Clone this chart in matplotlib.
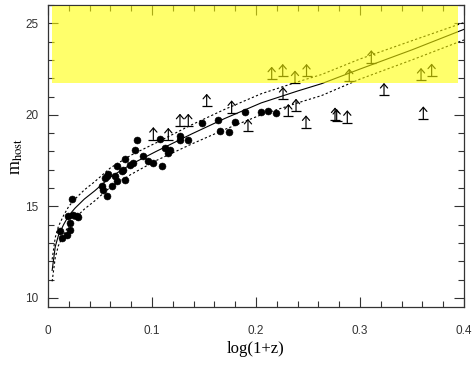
import numpy as np
import matplotlib
matplotlib.use('Agg')
import matplotlib.pyplot as plt
from matplotlib.patches import Rectangle
from matplotlib.ticker import MultipleLocator, FuncFormatter

plt.rcParams['font.family'] = ['Liberation Sans', 'DejaVu Sans']
plt.rcParams['mathtext.fontset'] = 'stix'

# Host galaxy magnitudes (filled circles).
x_host = [0.0115, 0.0132, 0.018, 0.0212, 0.0212, 0.0195, 0.0228, 0.0276, 0.0291, 0.0236,
          0.0516, 0.0532, 0.0564, 0.0548, 0.0564, 0.058, 0.0613, 0.0644, 0.066, 0.066,
          0.0709, 0.0724, 0.074, 0.074, 0.0788, 0.082, 0.0837, 0.0853, 0.0916, 0.0964,
          0.1012, 0.1093, 0.1077, 0.1125, 0.1173, 0.1157, 0.1269, 0.1269, 0.1349, 0.1478,
          0.1638, 0.1654, 0.174, 0.1798, 0.1894, 0.2048, 0.2115, 0.2197]
m_host = [13.63, 13.27, 13.45, 13.72, 14.09, 14.45, 15.40, 14.49, 14.40, 14.55,
          16.10, 15.91, 15.55, 16.55, 16.64, 16.74, 16.10, 16.64, 16.37, 17.19,
          16.92, 17.01, 16.46, 17.59, 17.28, 17.38, 18.10, 18.61, 17.74, 17.46,
          17.38, 17.19, 18.69, 18.20, 18.10, 17.92, 18.83, 18.65, 18.65, 19.56,
          19.73, 19.09, 19.05, 19.60, 20.18, 20.17, 20.20, 20.11]

# Lower limits (arrows).
x_lim = [0.1013, 0.1157, 0.1269, 0.1349, 0.1526, 0.1766, 0.1923, 0.226, 0.2311, 0.2385,
         0.2481, 0.276, 0.2776, 0.2878, 0.3231, 0.3609,
         0.2151, 0.2257, 0.2375, 0.2486, 0.2897, 0.3109, 0.3587, 0.3689]
m_lim = [18.65, 18.61, 19.38, 19.38, 20.47, 20.11, 19.10, 20.84, 19.91, 20.20,
         19.29, 19.72, 19.64, 19.57, 21.06, 19.78,
         21.95, 22.10, 21.74, 22.10, 21.84, 22.85, 21.88, 22.12]

# Hubble relation and its scatter.
x_curve = [0.004, 0.007, 0.01, 0.015, 0.02, 0.026, 0.035, 0.045, 0.06, 0.08,
           0.104, 0.138, 0.17, 0.205, 0.24, 0.263, 0.30, 0.35, 0.40]
m_mid = [11.5, 12.8, 13.4, 14.0, 14.5, 14.9, 15.4, 15.85, 16.6, 17.3,
         18.0, 18.95, 19.8, 20.65, 21.3, 21.7, 22.5, 23.55, 24.67]
m_upper = [12.1, 13.3, 13.9, 14.5, 15.0, 15.4, 15.9, 16.35, 17.1, 17.8,
           18.47, 19.45, 20.3, 21.15, 21.8, 22.2, 23.05, 24.05, 25.04]
m_lower = [10.9, 12.2, 12.85, 13.45, 13.95, 14.35, 14.85, 15.3, 16.05, 16.75,
           17.5, 18.4, 19.2, 20.0, 20.65, 21.05, 21.95, 23.0, 24.09]

# Region beyond the survey limit.
band_x = (0.004, 0.394)
band_m = (21.72, 25.93)

fig = plt.figure(figsize=(4.77, 3.67), dpi=100)
ax = fig.add_axes([0.1006, 0.1635, 0.8721, 0.8229])

ax.plot(x_curve, m_mid, '-', color='k', lw=0.8, zorder=2)
ax.plot(x_curve, m_upper, color='k', lw=0.8, ls=(0, (2, 2)), zorder=2)
ax.plot(x_curve, m_lower, color='k', lw=0.8, ls=(0, (2, 2)), zorder=2)

ax.plot(x_host, m_host, 'o', color='k', ms=5.0, mec='k', mew=0.4, zorder=3)

for x, m in zip(x_lim, m_lim):
    ax.annotate('', xy=(x, m + 0.68), xytext=(x, m),
                arrowprops=dict(arrowstyle='->,head_length=0.3,head_width=0.26',
                                lw=0.85, color='k', shrinkA=0, shrinkB=0,
                                mutation_scale=10),
                zorder=3)
ax.plot(x_lim, m_lim, '_', color='k', ms=7.5, mew=0.9, zorder=3)

ax.add_patch(Rectangle((band_x[0], band_m[0]), band_x[1] - band_x[0],
                       band_m[1] - band_m[0], facecolor='#ffff00',
                       edgecolor='none', alpha=0.58, zorder=5))

ax.set_xlim(0, 0.4)
ax.set_ylim(9.5, 26)
ax.xaxis.set_major_locator(MultipleLocator(0.1))
ax.xaxis.set_minor_locator(MultipleLocator(0.02))
ax.yaxis.set_major_locator(MultipleLocator(5))
ax.yaxis.set_minor_locator(MultipleLocator(1))


def fmt(x, pos):
    return '%g' % round(x, 3)


ax.xaxis.set_major_formatter(FuncFormatter(fmt))
ax.yaxis.set_major_formatter(FuncFormatter(fmt))

ax.tick_params(which='both', direction='in', top=True, right=True,
               colors='#333333', labelsize=8.5, width=0.8)
ax.tick_params(which='major', length=7)
ax.tick_params(which='minor', length=4)
ax.tick_params(axis='x', pad=13)
ax.tick_params(axis='y', pad=7)
for s in ax.spines.values():
    s.set_color('#333333')
    s.set_linewidth(0.9)

ax.set_xlabel('log(1+z)', family='Liberation Serif', fontsize=12, labelpad=3)
ax.set_ylabel(r'm$_{\rm host}$', family='Liberation Serif', fontsize=13)
ax.yaxis.set_label_coords(-0.056, 0.5)

fig.savefig('out.png', dpi=100)
